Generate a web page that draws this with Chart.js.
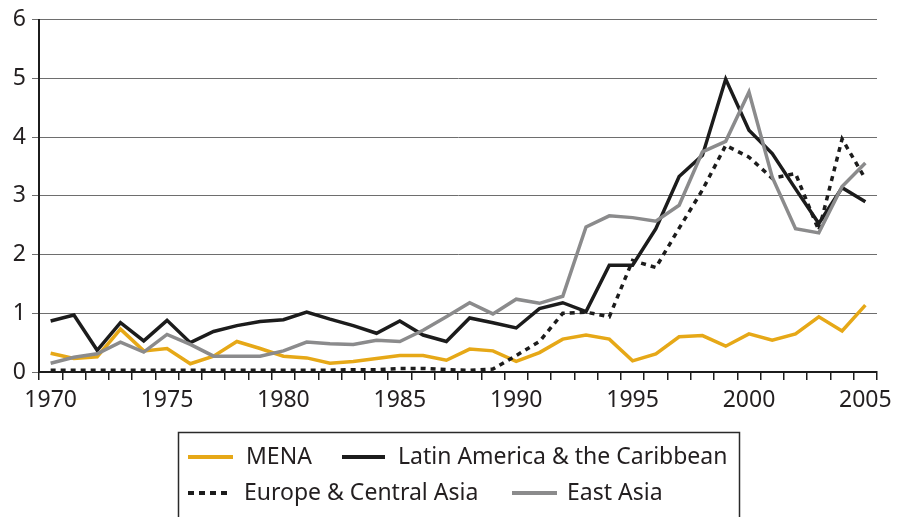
<!DOCTYPE html>
<html>
<head>
<meta charset="utf-8">
<script src="https://cdn.jsdelivr.net/npm/chart.js@4.4.1/dist/chart.umd.min.js"></script>
<style>
  html, body { margin: 0; padding: 0; background: #fff; }
  #wrap { width: 902px; height: 517px; position: relative; }
</style>
</head>
<body>
<div id="wrap"><canvas id="chart" width="902" height="517"></canvas></div>
<script>
// categories and series
const years = [];
for (let y = 1970; y <= 2005; y++) years.push(String(y));

const yTicks = [0, 1, 2, 3, 4, 5, 6];

const mena = [0.32, 0.23, 0.26, 0.73, 0.36, 0.40, 0.14, 0.27, 0.52, 0.40,
              0.27, 0.24, 0.15, 0.18, 0.23, 0.28, 0.28, 0.20, 0.39, 0.36,
              0.18, 0.33, 0.56, 0.63, 0.56, 0.19, 0.31, 0.60, 0.62, 0.44,
              0.65, 0.54, 0.65, 0.94, 0.70, 1.14];

const latinAmerica = [0.87, 0.97, 0.37, 0.84, 0.53, 0.88, 0.50, 0.69, 0.79, 0.86,
                      0.89, 1.02, 0.90, 0.79, 0.66, 0.87, 0.63, 0.52, 0.92, 0.84,
                      0.75, 1.08, 1.18, 1.03, 1.82, 1.82, 2.44, 3.33, 3.69, 4.99,
                      4.12, 3.72, 3.12, 2.53, 3.14, 2.90];

const europe = [0.03, 0.03, 0.03, 0.03, 0.03, 0.03, 0.03, 0.03, 0.03, 0.03,
                0.03, 0.03, 0.03, 0.04, 0.04, 0.06, 0.06, 0.04, 0.03, 0.05,
                0.28, 0.52, 1.00, 1.02, 0.94, 1.90, 1.78, 2.45, 3.10, 3.86,
                3.66, 3.30, 3.38, 2.41, 3.97, 3.29];

const eastAsia = [0.15, 0.25, 0.31, 0.51, 0.34, 0.64, 0.47, 0.27, 0.27, 0.27,
                  0.36, 0.51, 0.48, 0.47, 0.54, 0.52, 0.71, 0.94, 1.18, 0.99,
                  1.24, 1.17, 1.29, 2.47, 2.66, 2.63, 2.57, 2.84, 3.75, 3.93,
                  4.77, 3.32, 2.44, 2.37, 3.16, 3.56];

const colors = {
    gold: '#e6a817',
    black: '#1c1c1c',
    gray: '#8b8b8c',
    grid: '#6e6e6e'
};

const FONT = 'Noto Sans';

// boxed legend under the plot, two rows like the original
const legendBox = {
    id: 'legendBox',
    afterDraw(chart) {
        const ctx = chart.ctx;
        const ds = chart.data.datasets;
        const items = [
            { i: 0, x1: 188, x2: 233, tx: 246, y: 457 },
            { i: 1, x1: 342, x2: 385, tx: 398, y: 457 },
            { i: 2, x1: 188, x2: 228, tx: 244, y: 493 },
            { i: 3, x1: 512, x2: 557, tx: 567, y: 493 }
        ];
        ctx.save();
        ctx.strokeStyle = '#2a2a2a';
        ctx.lineWidth = 1.5;
        ctx.strokeRect(178.5, 432.5, 561, 100);
        ctx.font = '23px "' + FONT + '"';
        ctx.textBaseline = 'middle';
        items.forEach(it => {
            const d = ds[it.i];
            ctx.strokeStyle = d.borderColor;
            ctx.lineWidth = 4;
            ctx.setLineDash(d.borderDash ? [6, 5] : []);
            ctx.beginPath();
            ctx.moveTo(it.x1, it.y);
            ctx.lineTo(it.x2, it.y);
            ctx.stroke();
            ctx.setLineDash([]);
            ctx.fillStyle = '#231f20';
            ctx.fillText(d.label, it.tx, it.y);
        });
        ctx.restore();
    }
};

new Chart(document.getElementById('chart'), {
    type: 'line',
    data: {
        labels: years,
        datasets: [
            { label: 'MENA', data: mena, borderColor: colors.gold, borderWidth: 3.5, order: 4 },
            { label: 'Latin America & the Caribbean', data: latinAmerica, borderColor: colors.black, borderWidth: 3.5, order: 3 },
            { label: 'Europe & Central Asia', data: europe, borderColor: colors.black, borderWidth: 3.5, borderDash: [5, 5], order: 2 },
            { label: 'East Asia', data: eastAsia, borderColor: colors.gray, borderWidth: 3.5, order: 1 }
        ]
    },
    options: {
        responsive: false,
        animation: false,
        elements: { point: { radius: 0 }, line: { tension: 0, borderJoinStyle: 'miter' } },
        layout: { padding: { top: 7, right: 25, left: 0, bottom: 0 } },
        plugins: { legend: { display: false }, tooltip: { enabled: false } },
        scales: {
            x: {
                offset: true,
                grid: { offset: true, drawOnChartArea: false, drawTicks: true, tickLength: 8, color: colors.black, lineWidth: 1.5 },
                border: { color: colors.black, width: 2 },
                ticks: {
                    autoSkip: false, maxRotation: 0, padding: 7,
                    color: '#231f20', font: { family: FONT, size: 23 },
                    callback: function(v, i) { return (1970 + i) % 5 === 0 ? this.getLabelForValue(v) : ''; }
                },
                afterFit: s => { s.height = 145; }
            },
            y: {
                min: 0, max: 6,
                afterBuildTicks: s => { s.ticks = yTicks.map(v => ({ value: v })); },
                grid: { color: colors.grid, lineWidth: 1, tickLength: 7 },
                border: { color: colors.black, width: 2 },
                ticks: { padding: 6, color: '#231f20', font: { family: FONT, size: 23 } },
                afterFit: s => { s.width = 39; }
            }
        }
    },
    plugins: [legendBox]
});
</script>
</body>
</html>
